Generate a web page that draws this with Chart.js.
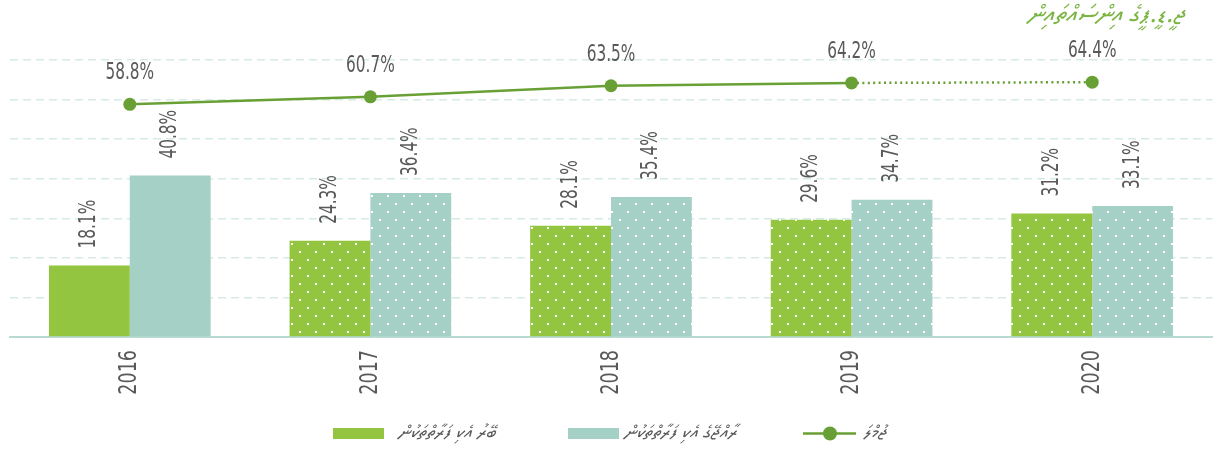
<!DOCTYPE html>
<html>
<head>
<meta charset="utf-8">
<script src="https://cdn.jsdelivr.net/npm/chart.js@4.4.1/dist/chart.umd.min.js"></script>
<style>
  html, body { margin: 0; padding: 0; background: #ffffff; }
  #wrap { position: relative; width: 1219px; height: 452px; }
</style>
</head>
<body>
<div id="wrap"><canvas id="c" width="1219" height="452"></canvas></div>
<script>
// ---- data ----
const years = ['2016', '2017', '2018', '2019', '2020'];
const externalDebt = [18.1, 24.3, 28.1, 29.6, 31.2];
const domesticDebt = [40.8, 36.4, 35.4, 34.7, 33.1];
const totalDebt = [58.8, 60.7, 63.5, 64.2, 64.4];
const seriesLabels = ['ބޭރު އެކި ފަރާތްތަކުން', 'ރާއްޖޭގެ އެކި ފަރާތްތަކުން', 'ޖުމްލަ'];
const titleText = 'ޖީ.ޑީ.ޕީގެ އިންސައްތައިން';
const yMax = 70;
const yStep = 10;

// ---- styles ----
const GREEN = '#93c540';
const TEAL = '#a5d0c6';
const LINE = '#68a035';
const TEXT = '#595959';
const NARROW = '"Liberation Sans Narrow", "DejaVu Sans Condensed", "Liberation Sans", sans-serif';
const THAANA = '"Noto Sans Thaana", "MV Faseyha", "DejaVu Sans", "Noto Sans", sans-serif';

function dotPattern(color) {
  const t = document.createElement('canvas');
  t.width = 16; t.height = 16;
  const g = t.getContext('2d');
  g.fillStyle = color; g.fillRect(0, 0, 16, 16);
  g.fillStyle = '#ffffff';
  g.fillRect(3, 3, 2, 2);
  g.fillRect(11, 11, 2, 2);
  return document.getElementById('c').getContext('2d').createPattern(t, 'repeat');
}
const greenDots = dotPattern(GREEN);
const tealDots = dotPattern(TEAL);

function narrowText(ctx, txt, x, y, size, sx, rot, align) {
  ctx.save();
  ctx.translate(x, y);
  if (rot) ctx.rotate(rot);
  ctx.scale(sx, 1);
  ctx.font = size + 'px ' + NARROW;
  ctx.fillStyle = TEXT;
  ctx.textAlign = align;
  ctx.textBaseline = 'middle';
  ctx.fillText(txt, 0, 0);
  ctx.restore();
}

const labelPlugin = {
  id: 'labels',
  afterDatasetsDraw(chart) {
    const ctx = chart.ctx;
    // bar value labels (rotated)
    [0, 1].forEach(di => {
      const meta = chart.getDatasetMeta(di);
      meta.data.forEach((bar, i) => {
        const v = chart.data.datasets[di].data[i];
        narrowText(ctx, v.toFixed(1) + '%', bar.x, bar.y - 17, 23, 0.74, -Math.PI / 2, 'left');
      });
    });
    // line value labels
    const lm = chart.getDatasetMeta(2);
    lm.data.forEach((pt, i) => {
      const v = chart.data.datasets[2].data[i];
      narrowText(ctx, v.toFixed(1) + '%', pt.x, pt.y - 31, 23, 0.74, 0, 'center');
    });
    // x tick labels (rotated)
    const xs = chart.scales.x;
    years.forEach((y, i) => {
      narrowText(ctx, y, xs.getPixelForValue(i), xs.top + 13, 25, 0.78, -Math.PI / 2, 'right');
    });
  },
  afterDraw(chart) {
    const ctx = chart.ctx;
    // title
    ctx.save();
    ctx.font = 'italic 25px ' + THAANA;
    ctx.fillStyle = '#7ab542';
    ctx.textAlign = 'right';
    ctx.textBaseline = 'middle';
    ctx.direction = 'rtl';
    ctx.fillText(titleText, 1185, 17);
    ctx.restore();
    // legend
    const ly = 433.5;
    ctx.save();
    ctx.fillStyle = GREEN; ctx.fillRect(333, 428, 51, 11);
    ctx.fillStyle = TEAL; ctx.fillRect(568, 428, 51, 11);
    ctx.strokeStyle = LINE; ctx.lineWidth = 2.5;
    ctx.beginPath(); ctx.moveTo(803, ly); ctx.lineTo(856, ly); ctx.stroke();
    ctx.fillStyle = LINE;
    ctx.beginPath(); ctx.arc(830, ly, 7, 0, Math.PI * 2); ctx.fill();
    ctx.font = 'italic 18.5px ' + THAANA;
    ctx.fillStyle = TEXT;
    ctx.textBaseline = 'middle';
    ctx.textAlign = 'left';
    ctx.fillText(seriesLabels[0], 398, ly);
    ctx.fillText(seriesLabels[1], 624, ly);
    ctx.fillText(seriesLabels[2], 863, ly);
    ctx.restore();
  }
};

new Chart(document.getElementById('c'), {
  type: 'bar',
  data: {
    labels: years,
    datasets: [
      {
        label: seriesLabels[0],
        data: externalDebt,
        backgroundColor: externalDebt.map((_, i) => i === 0 ? GREEN : greenDots),
        borderWidth: 0,
        categoryPercentage: 0.672,
        barPercentage: 1.0,
        order: 2
      },
      {
        label: seriesLabels[1],
        data: domesticDebt,
        backgroundColor: domesticDebt.map((_, i) => i === 0 ? TEAL : tealDots),
        borderWidth: 0,
        categoryPercentage: 0.672,
        barPercentage: 1.0,
        order: 2
      },
      {
        type: 'line',
        label: seriesLabels[2],
        data: totalDebt,
        borderColor: LINE,
        backgroundColor: LINE,
        borderWidth: 2.5,
        pointRadius: 6.5,
        pointHoverRadius: 6.5,
        pointBackgroundColor: LINE,
        pointBorderWidth: 0,
        tension: 0,
        order: 1,
        segment: {
          borderDash: c => c.p0DataIndex === 3 ? [2, 3.4] : undefined
        }
      }
    ]
  },
  options: {
    responsive: false,
    animation: false,
    events: [],
    layout: { padding: { left: 9.5, right: 4.5, top: 60, bottom: 0 } },
    plugins: { legend: { display: false }, tooltip: { enabled: false }, title: { display: false } },
    scales: {
      x: {
        grid: { display: false },
        border: { display: true, color: '#b7dad2', width: 2 },
        ticks: { display: false },
        afterFit: s => { s.height = 115; }
      },
      y: {
        min: 0,
        max: yMax,
        ticks: { display: false, stepSize: yStep },
        grid: { color: '#d5ebe5', lineWidth: 1.5, drawTicks: false },
        border: { display: false, dash: [8, 5] },
        afterFit: s => { s.width = 0; }
      }
    }
  },
  plugins: [labelPlugin]
});
</script>
</body>
</html>
